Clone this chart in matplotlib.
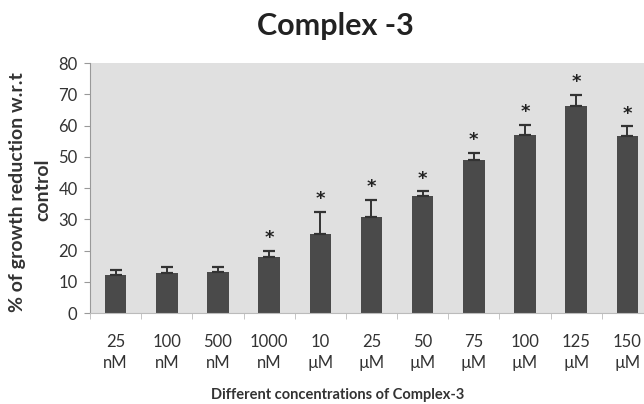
import numpy as np
import matplotlib
matplotlib.use("Agg")
import matplotlib.pyplot as plt

# Values
conc_labels = ["25\nnM", "100\nnM", "500\nnM", "1000\nnM", "10\nµM", "25\nµM",
               "50\nµM", "75\nµM", "100\nµM", "125\nµM", "150\nµM"]
growth_red = [12.3, 12.8, 13.2, 17.8, 25.2, 30.6, 37.5, 48.9, 57.1, 66.2, 56.7]
sem = [1.6, 2.0, 1.6, 2.0, 7.2, 5.6, 1.4, 2.4, 3.0, 3.5, 3.0]
signif = [False, False, False, True, True, True, True, True, True, True, True]

plt.rcParams['font.family'] = ['Lato', 'DejaVu Sans']

fig = plt.figure(figsize=(6.44, 4.04), dpi=100)
ax = fig.add_axes([0.1398, 0.2252, 0.874, 0.6188])
ax.set_facecolor("#e0e0e0")

x = np.arange(len(growth_red))
ax.bar(x, growth_red, width=0.42, color="#4a4a4a", zorder=2)
ax.errorbar(x, growth_red, yerr=[np.zeros(len(sem)), sem], fmt="none",
            ecolor="#333333", elinewidth=1.4, capsize=4, capthick=1.6, zorder=3)

# significance stars
for xi, v, e, s in zip(x, growth_red, sem, signif):
    if s:
        ax.text(xi, v + e + 1.2, "*", ha="center", va="bottom",
                fontsize=13, fontweight="bold", color="#222222",
                family="DejaVu Sans")

ax.set_xlim(-0.5, len(x) - 0.5)
ax.set_ylim(0, 80)
ax.set_yticks(range(0, 81, 10))
ax.set_xticks(x)
ax.set_xticklabels(conc_labels, fontsize=12, color="#333333", linespacing=1.38)
ax.set_xticks(np.arange(-0.5, len(x), 1), minor=True)
ax.tick_params(axis="x", which="major", length=0, pad=15)
ax.tick_params(axis="x", which="minor", length=4, color="#bbbbbb")
ax.tick_params(axis="y", labelsize=12, labelcolor="#333333", length=4,
               color="#999999", pad=5)

for side in ["top", "right"]:
    ax.spines[side].set_visible(False)
ax.spines["left"].set_color("#999999")
ax.spines["bottom"].set_color("#bbbbbb")

# y axis title, two lines as in the original
fig.text(18 / 644, 1 - 192 / 404, "% of growth reduction w.r.t", rotation=90,
         ha="center", va="center", fontsize=14, fontweight="bold",
         color="#333333")
fig.text(43 / 644, 1 - 190 / 404, "control", rotation=90,
         ha="center", va="center", fontsize=14, fontweight="bold",
         color="#333333")

fig.text(338 / 644, 1 - 395 / 404, "Different concentrations of Complex-3",
         ha="center", va="center", fontsize=10.5, fontweight="bold",
         color="#333333")

fig.text(335 / 644, 1 - 26 / 404, "Complex -3", ha="center", va="center",
         fontsize=22, fontweight="bold", color="#222222")

fig.savefig("out.png", dpi=100)
